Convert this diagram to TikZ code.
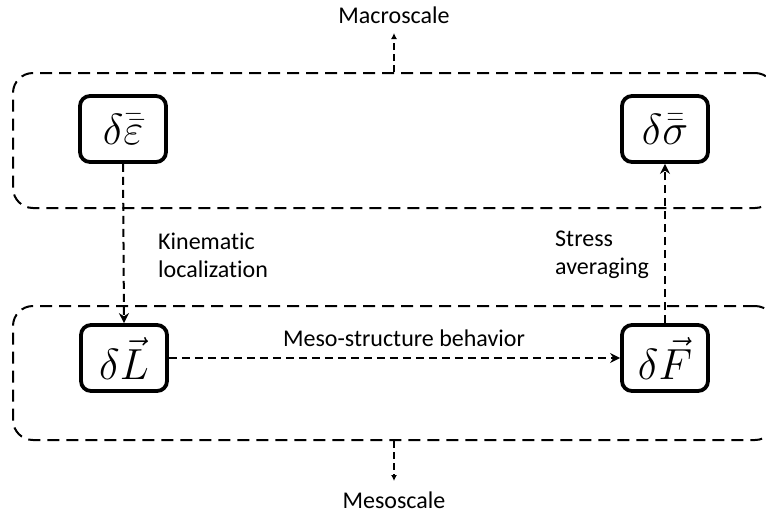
\documentclass[tikz,border=0pt]{standalone}
\usepackage{fontspec}
\setmainfont{Carlito}[Ligatures={NoCommon}]
\usetikzlibrary{arrows.meta}
\newcommand{\bigmath}[1]{\scalebox{1.75}{$#1$}}
\begin{document}
\begin{tikzpicture}[x=1pt,y=-1pt,
  scalebox/.style={draw, line width=2pt, dash pattern=on 12pt off 7pt, rounded corners=20pt, inner sep=0pt},
  qty/.style={draw, line width=3.8pt, rounded corners=10pt, minimum width=86pt, minimum height=66pt, inner sep=0pt, font=\Huge},
  flow/.style={line width=2pt, dash pattern=on 8pt off 5pt, -{Stealth[length=10pt,width=10pt]}},
  scaleflow/.style={line width=1.8pt, dash pattern=on 7pt off 4pt, -{Latex[length=6pt,width=6pt]}},
  lbl/.style={font=\fontsize{24}{28}\selectfont, align=left, inner sep=0pt},
]
\useasboundingbox (0,0) rectangle (766,520);
% scale frames
\node[scalebox, minimum width=762pt, minimum height=135pt] (macro) at (394,140.5) {};
\node[scalebox, minimum width=762pt, minimum height=134pt] (meso) at (394,373) {};
% quantities
\node[qty] (eps) at (123,129) {\bigmath{\delta\bar{\bar{\varepsilon}}}};
\node[qty] (sig) at (665,129) {\bigmath{\delta\bar{\bar{\sigma}}}};
\node[qty] (L) at (124,358) {\bigmath{\delta\vec{L}}};
\node[qty] (F) at (665,358) {\bigmath{\delta\vec{F}}};
% labels
\node[lbl] (macrolbl) at (394,15) {Macroscale};
\node[lbl] (mesolbl) at (394,500) {Mesoscale};
\node[lbl, anchor=west] (kin) at (158,255) {Kinematic\\localization};
\node[lbl, anchor=west] (str) at (555,255) {Stress\\averaging};
\node[lbl] (beh) at (404,338) {Meso-structure behavior};
\coordinate (uptip) at (394,33);
\coordinate (downtip) at (394,481);
% connectors
\draw[flow] (eps.south) -- (L.north);
\draw[flow] (F.north) -- (sig.south);
\draw[flow] (L.east) -- (F.west);
\draw[scaleflow] (macro.north) -- (uptip);
\draw[scaleflow] (meso.south) -- (downtip);
\end{tikzpicture}
\end{document}
